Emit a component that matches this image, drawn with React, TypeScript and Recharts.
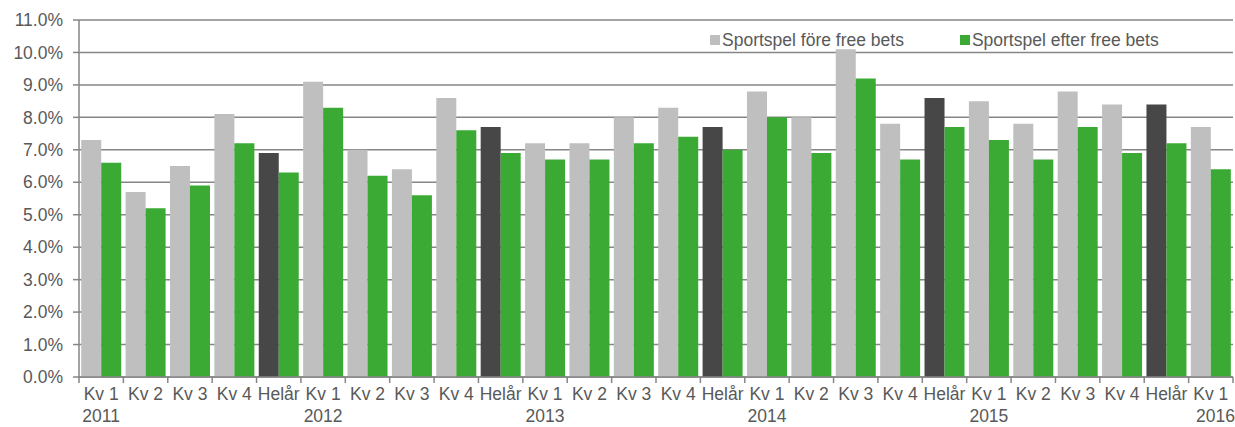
import { Bar, BarChart, CartesianGrid, Cell, Legend, XAxis, YAxis } from "recharts";

const quarters = [
  "Kv 1", "Kv 2", "Kv 3", "Kv 4", "Helår",
  "Kv 1", "Kv 2", "Kv 3", "Kv 4", "Helår",
  "Kv 1", "Kv 2", "Kv 3", "Kv 4", "Helår",
  "Kv 1", "Kv 2", "Kv 3", "Kv 4", "Helår",
  "Kv 1", "Kv 2", "Kv 3", "Kv 4", "Helår",
  "Kv 1",
];
const years = [
  "2011", "", "", "", "",
  "2012", "", "", "", "",
  "2013", "", "", "", "",
  "2014", "", "", "", "",
  "2015", "", "", "", "",
  "2016",
];
const fore = [
  7.3, 5.7, 6.5, 8.1, 6.9,
  9.1, 7.0, 6.4, 8.6, 7.7,
  7.2, 7.2, 8.0, 8.3, 7.7,
  8.8, 8.0, 10.1, 7.8, 8.6,
  8.5, 7.8, 8.8, 8.4, 8.4,
  7.7,
];
const efter = [
  6.6, 5.2, 5.9, 7.2, 6.3,
  8.3, 6.2, 5.6, 7.6, 6.9,
  6.7, 6.7, 7.2, 7.4, 7.0,
  8.0, 6.9, 9.2, 6.7, 7.7,
  7.3, 6.7, 7.7, 6.9, 7.2,
  6.4,
];
const yTicks = [0, 1, 2, 3, 4, 5, 6, 7, 8, 9, 10, 11];

const data = quarters.map((q, i) => ({
  key: i,
  label: q,
  year: years[i],
  fore: fore[i],
  efter: efter[i],
}));

const GREY = "#bfbfbf";
const DARK = "#474747";
const GREEN = "#3aaa35";
const AXIS = "#868686";
const TEXT = "#595959";
const FONT = "'Liberation Sans', Arial, sans-serif";
const FS = 17.5;
const BAND = 1154 / 26;

function XTick(props: any) {
  const { x, y, payload, index } = props;
  const d = data[payload.value];
  const last = index === data.length - 1;
  return (
    <g>
      <line x1={x - BAND / 2} x2={x - BAND / 2} y1={y} y2={y + 6} stroke={AXIS} strokeWidth={1.5} />
      {last && (
        <line x1={x + BAND / 2} x2={x + BAND / 2} y1={y} y2={y + 6} stroke={AXIS} strokeWidth={1.5} />
      )}
      <text x={x} y={y + 23} textAnchor="middle" fill={TEXT} fontSize={FS} fontFamily={FONT}>
        {d.label}
      </text>
      {d.year && (
        <text
          x={last ? x + BAND / 2 + 2 : x}
          y={y + 45}
          textAnchor={last ? "end" : "middle"}
          fill={TEXT}
          fontSize={FS}
          fontFamily={FONT}
        >
          {d.year}
        </text>
      )}
    </g>
  );
}

function LegendBox() {
  const item = (color: string, text: string, mr: number) => (
    <div style={{ display: "flex", alignItems: "center", marginRight: mr }}>
      <span style={{ width: 10, height: 10, background: color, marginRight: 2, display: "inline-block" }} />
      <span style={{ fontSize: FS, color: TEXT, fontFamily: FONT, lineHeight: "20px" }}>{text}</span>
    </div>
  );
  return (
    <div style={{ display: "flex" }}>
      {item(GREY, "Sportspel före free bets", 56)}
      {item(GREEN, "Sportspel efter free bets", 0)}
    </div>
  );
}

export default function App() {
  return (
    <div style={{ width: 1235, height: 427, background: "#fff" }}>
      <style>{"body{margin:0}"}</style>
      <BarChart
        width={1235}
        height={427}
        data={data}
        margin={{ top: 20, right: 2, bottom: 0, left: 0 }}
        barCategoryGap="5%"
        barGap={0}
      >
        <CartesianGrid vertical={false} stroke={AXIS} strokeWidth={1.5} />
        <XAxis
          dataKey="key"
          interval={0}
          height={50}
          tickLine={false}
          tickSize={0}
          tickMargin={0}
          stroke={AXIS}
          strokeWidth={1.5}
          tick={<XTick />}
        />
        <YAxis
          width={79}
          domain={[0, 11]}
          ticks={yTicks}
          tickFormatter={(v: number) => `${v.toFixed(1)}%`}
          tickSize={6}
          tickMargin={10}
          stroke={AXIS}
          strokeWidth={1.5}
          tick={{ fill: TEXT, fontSize: FS, fontFamily: FONT }}
        />
        <Legend
          layout="horizontal"
          verticalAlign="middle"
          align="center"
          content={<LegendBox />}
          wrapperStyle={{ top: 30, left: 710, width: "auto" }}
        />
        <Bar dataKey="fore" fill={GREY} isAnimationActive={false}>
          {data.map((d) => (
            <Cell key={d.key} fill={d.label === "Helår" ? DARK : GREY} />
          ))}
        </Bar>
        <Bar dataKey="efter" fill={GREEN} isAnimationActive={false} />
      </BarChart>
    </div>
  );
}
